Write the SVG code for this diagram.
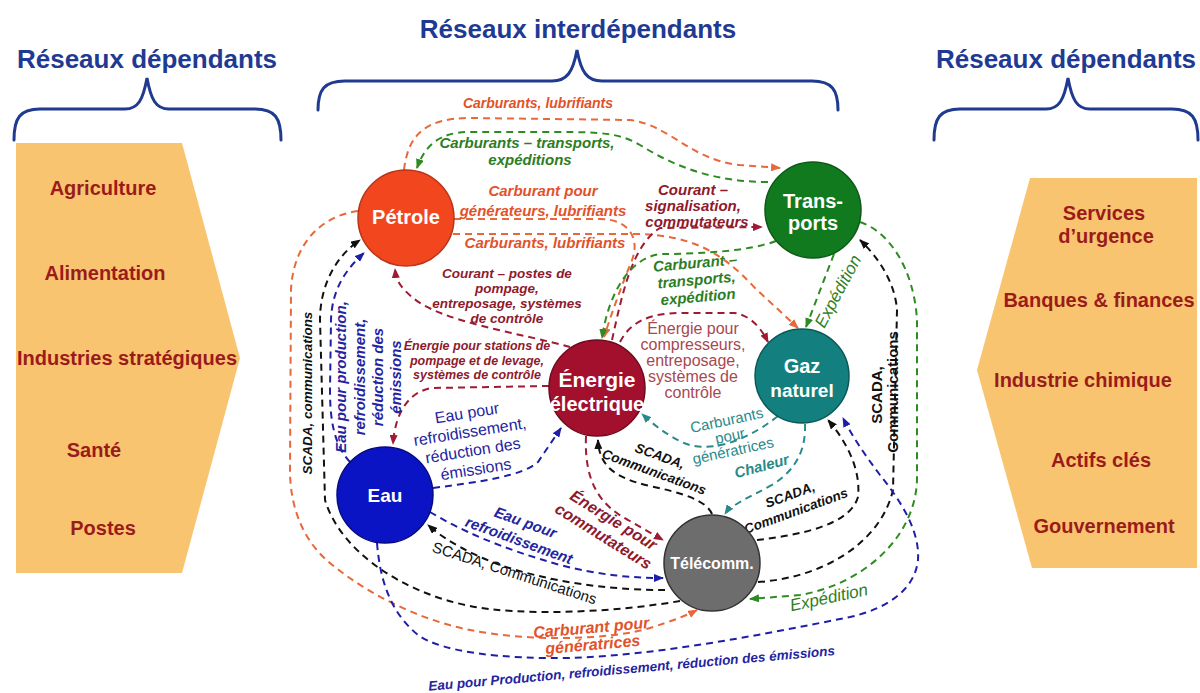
<svg xmlns="http://www.w3.org/2000/svg" width="1200" height="693" viewBox="0 0 1200 693">
<style>
text{font-family:"Liberation Sans",Arial,sans-serif}
.title{font-size:26px;font-weight:bold;fill:#1F3A93;text-anchor:middle}
.brace{fill:none;stroke:#1F3A8F;stroke-width:3;stroke-linecap:round}
.panel{fill:#F9C46F}
.item{font-size:20px;font-weight:bold;fill:#9B1B1B;text-anchor:middle}
.nl{font-weight:bold;fill:#fff;text-anchor:middle}
.c{fill:none;stroke-width:2;stroke-dasharray:7 5}
.or{stroke:#E8683A}.gr{stroke:#2E8B22}.dr{stroke:#9E1B32}.bk{stroke:#111}.bl{stroke:#1E1EA8}.tl{stroke:#2A8A8A}
.L{text-anchor:middle;font-style:italic;font-weight:bold}
.P{text-anchor:middle}
.fo{fill:#E2522A}.fg{fill:#2E7D22}.fd{fill:#8E1A2C}.fk{fill:#111}.fb{fill:#2424A0}.ft{fill:#2A8A8A}.fm{fill:#A84850}
</style>
<defs>
<marker id="a-or" markerUnits="userSpaceOnUse" markerWidth="10" markerHeight="8" refX="9" refY="4" orient="auto"><path d="M0,0L10,4L0,8z" fill="#E8683A"/></marker>
<marker id="a-gr" markerUnits="userSpaceOnUse" markerWidth="10" markerHeight="8" refX="9" refY="4" orient="auto"><path d="M0,0L10,4L0,8z" fill="#2E8B22"/></marker>
<marker id="a-dr" markerUnits="userSpaceOnUse" markerWidth="10" markerHeight="8" refX="9" refY="4" orient="auto"><path d="M0,0L10,4L0,8z" fill="#9E1B32"/></marker>
<marker id="a-bk" markerUnits="userSpaceOnUse" markerWidth="10" markerHeight="8" refX="9" refY="4" orient="auto"><path d="M0,0L10,4L0,8z" fill="#111"/></marker>
<marker id="a-bl" markerUnits="userSpaceOnUse" markerWidth="10" markerHeight="8" refX="9" refY="4" orient="auto"><path d="M0,0L10,4L0,8z" fill="#1E1EA8"/></marker>
<marker id="a-tl" markerUnits="userSpaceOnUse" markerWidth="10" markerHeight="8" refX="9" refY="4" orient="auto"><path d="M0,0L10,4L0,8z" fill="#2A8A8A"/></marker>
</defs>
<rect width="1200" height="693" fill="#fff"/>

<g id="titles">
<text class="title" x="147" y="68">Réseaux dépendants</text>
<text class="title" x="578" y="38">Réseaux interdépendants</text>
<text class="title" x="1066" y="68">Réseaux dépendants</text>
<path class="brace" d="M14,140C14,118 20,109 40,109L125,109C138,109 143,100 147,78C151,100 156,109 169,109L255,109C275,109 281,118 281,140"/>
<path class="brace" d="M318,110C318,90 324,81 345,81L552,81C567,81 573,72 577,50C581,72 587,81 602,81L812,81C832,81 838,90 838,110"/>
<path class="brace" d="M934,140C934,118 940,109 960,109L1046,109C1059,109 1064,100 1068,78C1072,100 1077,109 1090,109L1172,109C1192,109 1198,118 1198,140"/>
</g>

<g id="left-panel">
<polygon class="panel" points="16,143 182,143 240,358 182,573 16,573"/>
<text class="item" x="103" y="195">Agriculture</text>
<text class="item" x="105" y="280">Alimentation</text>
<text class="item" x="127" y="365">Industries stratégiques</text>
<text class="item" x="94" y="457">Santé</text>
<text class="item" x="103" y="535">Postes</text>
</g>

<g id="right-panel">
<polygon class="panel" points="1030,178 1197,178 1197,568 1032,568 977,370"/>
<text class="item" x="1104" y="220">Services</text>
<text class="item" x="1106" y="243">d’urgence</text>
<text class="item" x="1099" y="307">Banques &amp; finances</text>
<text class="item" x="1083" y="387">Industrie chimique</text>
<text class="item" x="1101" y="467">Actifs clés</text>
<text class="item" x="1104" y="533">Gouvernement</text>
</g>

<g id="connectors">
<path class="c or" marker-end="url(#a-or)" d="M404,170C408,135 425,118 470,118L630,120C670,125 690,160 740,165L780,168"/>
<path class="c gr" marker-end="url(#a-gr)" d="M768,182C720,182 680,170 640,145C620,133 600,132 560,132L470,132C440,132 425,145 417,168"/>
<path class="c or" marker-end="url(#a-or)" d="M454,219L600,219C630,219 642,240 630,265Q616,300 604,337"/>
<path class="c or" marker-end="url(#a-or)" d="M453,234L640,234C690,236 720,250 755,288L798,328"/>
<path class="c dr" marker-end="url(#a-dr)" d="M612,340C622,295 632,245 660,228L762,227"/>
<path class="c dr" marker-end="url(#a-dr)" d="M570,347C520,333 440,322 412,297C400,287 396,280 395,269"/>
<path class="c dr" marker-end="url(#a-dr)" d="M549,386L432,388C407,392 395,415 393,444"/>
<path class="c dr" marker-end="url(#a-dr)" d="M620,342C630,322 650,313 680,313L735,313C752,316 762,330 768,342"/>
<path class="c gr" marker-end="url(#a-gr)" d="M776,241C750,251 700,254 662,254C632,256 609,290 602,338"/>
<path class="c gr" marker-end="url(#a-gr)" d="M834,254L806,327"/>
<path class="c gr" marker-end="url(#a-gr)" d="M860,222C890,232 914,270 917,320L917,480C915,540 860,585 800,595L750,599"/>
<path class="c bk" marker-end="url(#a-bk)" d="M758,582C820,578 880,545 893,490L897,310C895,282 878,257 860,240"/>
<path class="c bk" marker-end="url(#a-bk)" d="M757,540C800,535 850,525 858,497C861,470 847,442 828,420"/>
<path class="c tl" marker-end="url(#a-tl)" d="M805,424C806,450 796,470 772,485C748,498 731,505 725,514"/>
<path class="c tl" marker-end="url(#a-tl)" d="M778,416C740,446 705,452 684,443C667,435 655,426 642,414"/>
<path class="c bk" marker-end="url(#a-bk)" d="M712,514C706,500 682,493 650,486C615,478 599,466 598,440"/>
<path class="c dr" marker-end="url(#a-dr)" d="M586,436C584,482 600,505 628,520L663,540"/>
<path class="c bl" marker-end="url(#a-bl)" d="M433,488C480,482 522,476 538,462L561,428"/>
<path class="c bl" marker-end="url(#a-bl)" d="M430,512C460,530 500,548 560,565C600,575 630,578 663,578"/>
<path class="c bk" marker-end="url(#a-bk)" d="M665,590C620,590 560,585 500,565C470,554 445,540 428,525"/>
<path class="c bk" marker-end="url(#a-bk)" d="M680,601C610,613 520,616 470,606C400,592 340,550 325,500L320,320C320,285 336,256 360,240"/>
<path class="c or" marker-end="url(#a-or)" d="M358,211C320,216 293,245 291,290L290,470C290,510 305,545 335,567C370,595 420,620 470,630C530,642 610,640 650,628C672,621 688,615 697,610"/>
<path class="c bl" marker-end="url(#a-bl)" d="M350,462C334,445 330,420 330,390L331,320C332,290 345,270 364,253"/>
<path class="c bl" marker-end="url(#a-bl)" d="M377,543C380,580 390,612 418,635C442,652 500,659 570,658C660,655 760,635 850,617C890,608 915,588 918,560C920,530 900,500 880,475C865,455 852,436 843,418"/>
</g>

<g id="labels">
<text class="L fo" x="538" y="108" font-size="14">Carburants, lubrifiants</text>
<text class="L fg" x="527" y="148" font-size="15">Carburants – transports,</text>
<text class="L fg" x="530" y="165" font-size="15">expéditions</text>
<text class="L fo" x="543" y="196" font-size="15">Carburant pour</text>
<text class="L fo" x="543" y="216" font-size="15">générateurs, lubrifiants</text>
<text class="L fo" x="545" y="248" font-size="15">Carburants, lubrifiants</text>
<text class="L fd" x="693" y="195" font-size="15">Courant –</text>
<text class="L fd" x="693" y="211" font-size="15">signalisation,</text>
<text class="L fd" x="697" y="227" font-size="15">commutateurs</text>
<text class="L fd" x="507" y="278" font-size="13.5">Courant – postes de</text>
<text class="L fd" x="507" y="293" font-size="13.5">pompage,</text>
<text class="L fd" x="507" y="308" font-size="13.5">entreposage, systèmes</text>
<text class="L fd" x="507" y="323" font-size="13.5">de contrôle</text>
<text class="L fd" x="477" y="350" font-size="12.5">Énergie pour stations de</text>
<text class="L fd" x="477" y="365" font-size="12.5">pompage et de levage,</text>
<text class="L fd" x="477" y="379" font-size="12.5">systèmes de contrôle</text>
<g transform="translate(697,285) rotate(-5)">
<text class="L fg" x="0" y="-17" font-size="15">Carburant –</text>
<text class="L fg" x="0" y="0" font-size="15">transports,</text>
<text class="L fg" x="0" y="17" font-size="15">expédition</text>
</g>
<text class="P fm" x="693" y="334" font-size="16">Énergie pour</text>
<text class="P fm" x="693" y="350" font-size="16">compresseurs,</text>
<text class="P fm" x="693" y="366" font-size="16">entreposage,</text>
<text class="P fm" x="693" y="382" font-size="16">systèmes de</text>
<text class="P fm" x="693" y="398" font-size="16">contrôle</text>
<g transform="translate(730,436) rotate(-12)">
<text class="P ft" x="0" y="-11" font-size="15">Carburants</text>
<text class="P ft" x="0" y="5" font-size="15">pour</text>
<text class="P ft" x="0" y="20" font-size="15">génératrices</text>
</g>
<g transform="translate(472,445) rotate(-9)">
<text class="P fb" x="0" y="-27" font-size="16">Eau pour</text>
<text class="P fb" x="0" y="-8" font-size="16">refroidissement,</text>
<text class="P fb" x="0" y="11" font-size="16">réduction des</text>
<text class="P fb" x="0" y="30" font-size="16">émissions</text>
</g>
<text class="L ft" font-size="15" transform="translate(763,471) rotate(-15)">Chaleur</text>
<g transform="translate(657,464) rotate(20)">
<text class="L fk" x="0" y="-4" font-size="13.5">SCADA,</text>
<text class="L fk" x="0" y="13" font-size="13.5">Communications</text>
</g>
<g transform="translate(793,503) rotate(-20)">
<text class="L fk" x="0" y="-4" font-size="13.5">SCADA,</text>
<text class="L fk" x="0" y="13" font-size="13.5">Communications</text>
</g>
<g transform="translate(608,529) rotate(32)">
<text class="L fd" x="0" y="-5" font-size="16">Énergie pour</text>
<text class="L fd" x="0" y="14" font-size="16">commutateurs</text>
</g>
<g transform="translate(522,532) rotate(20)">
<text class="L fb" x="0" y="-5" font-size="15">Eau pour</text>
<text class="L fb" x="0" y="14" font-size="15">refroidissement</text>
</g>
<text class="P fk" font-size="15" transform="translate(513,578) rotate(18)">SCADA, Communications</text>
<g transform="translate(592,636) rotate(-5)">
<text class="L fo" x="0" y="-3" font-size="16">Carburant pour</text>
<text class="L fo" x="0" y="14" font-size="16">génératrices</text>
</g>
<text class="L fb" font-size="13.5" transform="translate(632,673) rotate(-5)">Eau pour Production, refroidissement, réduction des émissions</text>
<text class="P fg" font-size="17" font-style="italic" transform="translate(830,603) rotate(-12)">Expédition</text>
<text class="P fg" font-size="17" font-style="italic" transform="translate(843,294) rotate(-62)">Expédition</text>
<text class="P fk" font-size="15" font-weight="bold" transform="translate(882,395) rotate(-90)">SCADA,</text>
<text class="P fk" font-size="15" font-weight="bold" transform="translate(898,392) rotate(-90)">Communications</text>
<text class="L fk" font-size="13.5" transform="translate(312,393) rotate(-90)">SCADA, communications</text>
<g transform="translate(369,377) rotate(-90)">
<text class="L fb" x="0" y="-23" font-size="15">Eau pour production,</text>
<text class="L fb" x="0" y="-4" font-size="15">refroidissement,</text>
<text class="L fb" x="0" y="14" font-size="15">réduction des</text>
<text class="L fb" x="0" y="32" font-size="15">émissions</text>
</g>
</g>

<g id="node-petrole">
<circle cx="406" cy="218" r="48" fill="#F2461F" stroke="#B8341A" stroke-width="1.5"/>
<text class="nl" x="406" y="224" font-size="20">Pétrole</text>
</g>
<g id="node-transports">
<circle cx="813" cy="210" r="48" fill="#117A1F" stroke="#0B5A15" stroke-width="1.5"/>
<text class="nl" x="813" y="208" font-size="20">Trans-</text>
<text class="nl" x="813" y="230" font-size="20">ports</text>
</g>
<g id="node-energie">
<circle cx="597" cy="388" r="48" fill="#A3102E" stroke="#6E0A1E" stroke-width="1.5"/>
<text class="nl" x="597" y="387" font-size="21">Énergie</text>
<text class="nl" x="597" y="411" font-size="20">électrique</text>
</g>
<g id="node-gaz">
<circle cx="802" cy="376" r="47" fill="#137F7F" stroke="#0B5858" stroke-width="1.5"/>
<text class="nl" x="802" y="373" font-size="20">Gaz</text>
<text class="nl" x="802" y="397" font-size="19">naturel</text>
</g>
<g id="node-eau">
<circle cx="385" cy="495" r="48" fill="#0B14C4" stroke="#060C80" stroke-width="1.5"/>
<text class="nl" x="385" y="502" font-size="19">Eau</text>
</g>
<g id="node-telecomm">
<circle cx="712" cy="563" r="48" fill="#6D6D6D" stroke="#333" stroke-width="1.5"/>
<text class="nl" x="712" y="569" font-size="16">Télécomm.</text>
</g>
</svg>
